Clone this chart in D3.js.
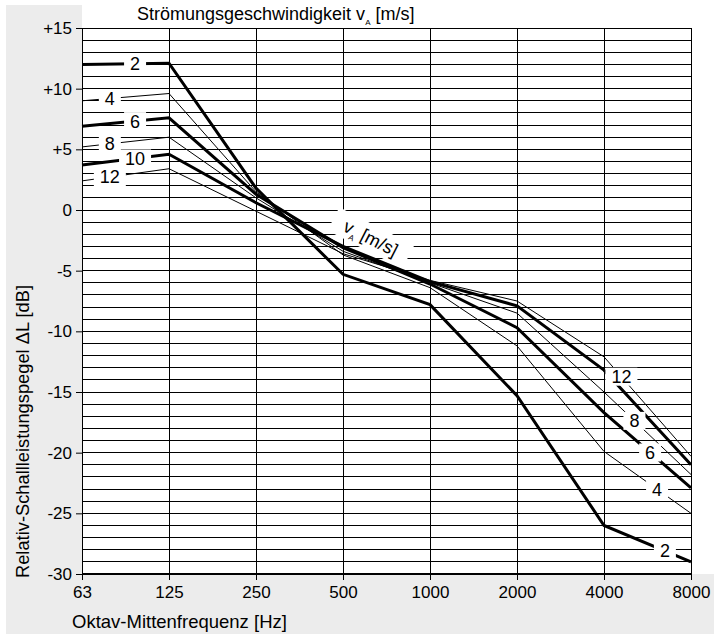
<!DOCTYPE html>
<html>
<head>
<meta charset="utf-8">
<script src="https://cdn.jsdelivr.net/npm/d3@7"></script>
<style>
  body { margin: 0; background: #fff; }
  svg { display: block; font-family: "Liberation Sans", Arial, sans-serif; }
</style>
</head>
<body>
<svg width="714" height="638"></svg>
<script>
// octave mid frequencies (Hz)
const freqs = ["63", "125", "250", "500", "1000", "2000", "4000", "8000"];
// relative sound power level in dB for each flow speed v_A [m/s]
const v2  = [12.0, 12.1, 1.8, -5.3, -7.8, -15.3, -26.0, -29.0];
const v4  = [9.0, 9.6, 1.5, -3.7, -6.4, -11.2, -19.9, -25.0];
const v6  = [6.9, 7.6, 1.3, -3.1, -6.1, -9.7, -16.7, -22.9];
const v8  = [5.2, 6.0, 1.0, -3.4, -6.0, -8.5, -15.0, -21.8];
const v10 = [3.7, 4.6, 0.6, -3.0, -5.9, -7.9, -13.2, -21.0];
const v12 = [2.4, 3.4, -0.1, -3.6, -5.8, -7.5, -12.1, -20.3];
const speeds = [2, 4, 6, 8, 10, 12];
const yTicks = [15, 10, 5, 0, -5, -10, -15, -20, -25, -30];

let series = [
  { v: 2, values: v2, thick: true },
  { v: 4, values: v4, thick: false },
  { v: 6, values: v6, thick: true },
  { v: 8, values: v8, thick: false },
  { v: 10, values: v10, thick: true },
  { v: 12, values: v12, thick: false }
];

// fraction along the first / last segment where the number labels sit
let leftPos = { 2: 0.61, 4: 0.32, 6: 0.61, 8: 0.32, 10: 0.61, 12: 0.32 };
let rightPos = { 12: 0.2, 8: 0.35, 6: 0.53, 4: 0.61, 2: 0.7 };

const plotLeft = 82, plotRight = 691, plotTop = 28, plotBottom = 574;
let svg = d3.select('svg');

// grey L shaped background
svg.append('rect').attr('x', 6).attr('y', 5).attr('width', plotLeft - 6).attr('height', plotBottom - 5).attr('fill', '#ececec');
svg.append('rect').attr('x', 6).attr('y', plotBottom).attr('width', 714 - 6).attr('height', 634 - plotBottom).attr('fill', '#ececec');

let xScale = d3.scalePoint()
    .domain(freqs)
    .range([plotLeft, plotRight]);

let yScale = d3.scaleLinear()
    .domain([-30, 15])
    .range([plotBottom, plotTop]);

// horizontal grid every 1 dB
svg.append('g')
    .selectAll('line')
    .data(d3.range(-30, 16))
    .enter()
    .append('line')
    .attr('x1', plotLeft).attr('x2', plotRight)
    .attr('y1', d => yScale(d)).attr('y2', d => yScale(d))
    .attr('stroke', '#000')
    .attr('stroke-width', 1)
    .attr('shape-rendering', 'crispEdges');

// vertical grid at each octave
svg.append('g')
    .selectAll('line')
    .data(freqs)
    .enter()
    .append('line')
    .attr('x1', d => xScale(d)).attr('x2', d => xScale(d))
    .attr('y1', plotTop).attr('y2', plotBottom)
    .attr('stroke', '#000')
    .attr('stroke-width', 1)
    .attr('shape-rendering', 'crispEdges');

// thicker bottom edge
svg.append('line')
    .attr('x1', plotLeft).attr('x2', plotRight)
    .attr('y1', plotBottom).attr('y2', plotBottom)
    .attr('stroke', '#000').attr('stroke-width', 2);

let yAxis = svg.append('g')
    .attr('transform', `translate(${plotLeft}, 0)`)
    .call(d3.axisLeft(yScale).tickValues(yTicks).tickSize(6).tickPadding(4)
        .tickFormat(d => d > 0 ? '+' + d : (d < 0 ? '-' + Math.abs(d) : '0')));

let xAxis = svg.append('g')
    .attr('transform', `translate(0, ${plotBottom})`)
    .call(d3.axisBottom(xScale).tickSize(6).tickPadding(6));

[yAxis, xAxis].forEach(ax => {
  ax.select('.domain').remove();
  ax.selectAll('text').attr('font-size', '17px').attr('font-family', '"Liberation Sans", Arial, sans-serif').attr('fill', '#000');
  ax.selectAll('line').attr('stroke', '#000');
});

// curves
let line = d3.line()
    .x((d, i) => xScale(freqs[i]))
    .y(d => yScale(d));

svg.append('g')
    .selectAll('path')
    .data(series)
    .enter()
    .append('path')
    .attr('d', d => line(d.values))
    .attr('fill', 'none')
    .attr('stroke', '#000')
    .attr('stroke-width', d => d.thick ? 3 : 1)
    .attr('stroke-linejoin', 'miter');

let pointAt = function(values, i, t) {
  let x0 = xScale(freqs[i]), x1 = xScale(freqs[i + 1]);
  let y0 = yScale(values[i]), y1 = yScale(values[i + 1]);
  return [x0 + (x1 - x0) * t, y0 + (y1 - y0) * t];
};

let labels = [];
series.forEach(s => {
  labels.push({ text: String(s.v), p: pointAt(s.values, 0, leftPos[s.v]) });
  if (rightPos[s.v] !== undefined) {
    labels.push({ text: String(s.v), p: pointAt(s.values, 6, rightPos[s.v]) });
  }
});

let lab = svg.append('g')
    .selectAll('g')
    .data(labels)
    .enter()
    .append('g')
    .attr('transform', d => `translate(${d.p[0]}, ${d.p[1]})`);

lab.append('rect')
    .attr('x', d => -(d.text.length * 10 + 12) / 2)
    .attr('y', -9)
    .attr('width', d => d.text.length * 10 + 12)
    .attr('height', 18)
    .attr('fill', '#fff');

lab.append('text')
    .attr('text-anchor', 'middle')
    .attr('dy', '0.36em')
    .attr('font-size', '18px')
    .text(d => d.text);

// v_A [m/s] annotation along the curves
let ann = svg.append('g')
    .attr('transform', `translate(${xScale('500') + 0.32 * xScale.step()}, ${yScale(-2.3)}) rotate(27)`);
ann.append('rect')
    .attr('x', -42).attr('y', -13).attr('width', 84).attr('height', 26)
    .attr('fill', '#fff');
let annText = ann.append('text')
    .attr('text-anchor', 'middle')
    .attr('dy', '0.36em')
    .attr('font-size', '18px');
annText.append('tspan').text('v');
annText.append('tspan').attr('font-size', '8px').attr('dy', '5').text('A');
annText.append('tspan').attr('dy', '-5').text(' [m/s]');

// titles
let title = svg.append('text')
    .attr('x', 137)
    .attr('y', 20)
    .attr('font-size', '18px')
    .attr('fill', '#000');
title.append('tspan').text('Strömungsgeschwindigkeit v');
title.append('tspan').attr('font-size', '8px').attr('dy', '5').text('A');
title.append('tspan').attr('dy', '-5').text(' [m/s]');

svg.append('text')
    .attr('x', 72)
    .attr('y', 628)
    .attr('font-size', '18.5px')
    .text('Oktav-Mittenfrequenz [Hz]');

svg.append('text')
    .attr('transform', 'translate(29, 578) rotate(-90)')
    .attr('font-size', '18.3px')
    .text('Relativ-Schallleistungspegel ΔL [dB]');
</script>
</body>
</html>
